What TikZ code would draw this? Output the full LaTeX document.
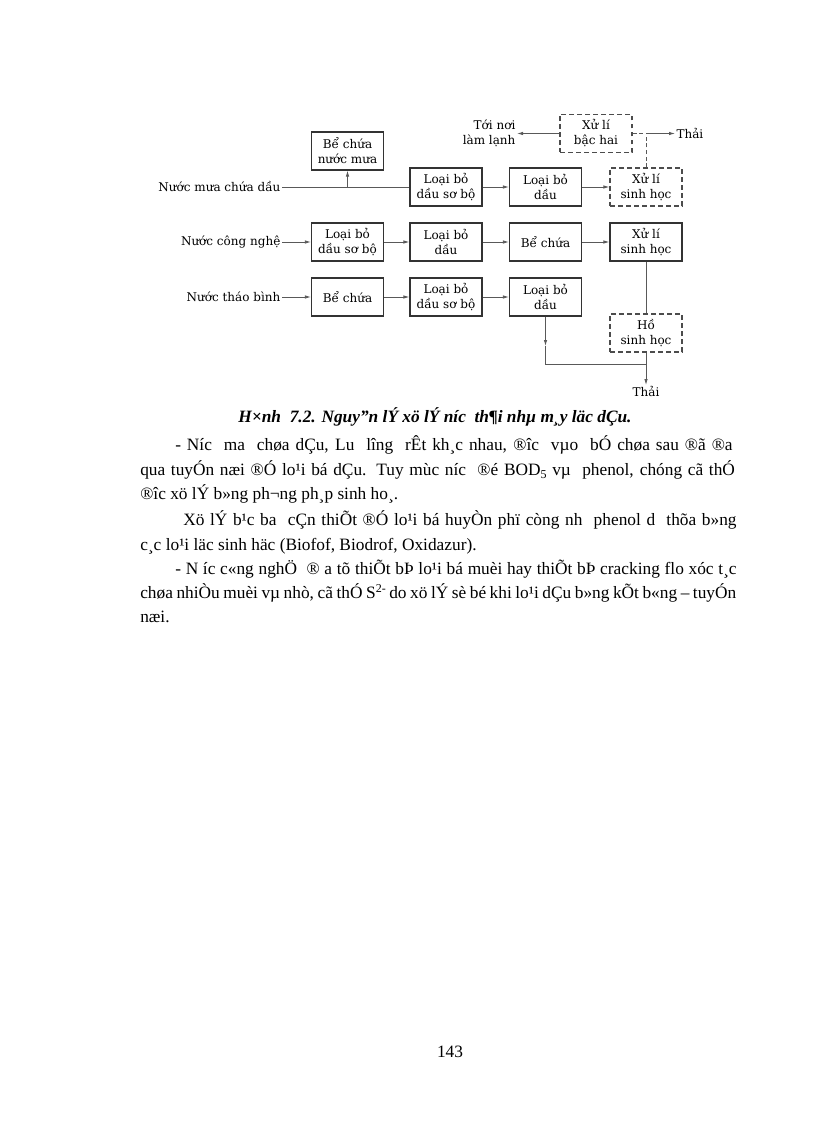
\documentclass[tikz,border=0pt]{standalone}
\usepackage{fontspec}
\setmainfont{Liberation Serif}
\newfontfamily\diafont{DejaVu Serif}
\usetikzlibrary{arrows.meta}
\begin{document}
\begin{tikzpicture}[x=0.75pt,y=-0.75pt,
  box/.style={draw=black!80, line width=0.9pt, inner sep=0pt, minimum width=54pt, minimum height=28.5pt, align=center, font=\diafont\fontsize{9}{11.3}\selectfont},
  dbox/.style={box, draw=black!70, dash pattern=on 3.5pt off 2.5pt},
  lbl/.style={inner sep=1pt, align=center, font=\diafont\fontsize{9}{11.3}\selectfont},
  ln/.style={draw=black!65, line width=0.6pt},
  arr/.style={ln, -{Latex[length=4.5pt,width=2.6pt]}},
  body/.style={anchor=base west, inner sep=0pt, font=\fontsize{13}{15}\selectfont}
]
\useasboundingbox[fill=white] (0,0) rectangle (816,1123);

% boxes
\node[box] (bcm) at (347.5,151) {Bể chứa\\nước mưa};
\node[box] (b12) at (446,187) {Loại bỏ\\dầu sơ bộ};
\node[box] (b13) at (545.5,187) {Loại bỏ\\dầu};
\node[dbox] (s1) at (646,187) {Xử lí\\sinh học};
\node[dbox] (bh) at (596,133.5) {Xử lí\\bậc hai};

\node[box] (b21) at (347.5,242) {Loại bỏ\\dầu sơ bộ};
\node[box] (b22) at (446,242) {Loại bỏ\\dầu};
\node[box] (b23) at (545.5,242) {Bể chứa};
\node[box] (s2) at (646,242) {Xử lí\\sinh học};

\node[box] (b31) at (347.5,297) {Bể chứa};
\node[box] (b32) at (446,297) {Loại bỏ\\dầu sơ bộ};
\node[box] (b33) at (545.5,297) {Loại bỏ\\dầu};
\node[dbox] (ho) at (646,333) {Hồ\\sinh học};

% labels
\node[lbl, anchor=east] (in1) at (282,187) {Nước mưa chứa dầu};
\node[lbl, anchor=east] (in2) at (282,242) {Nước công nghệ};
\node[lbl, anchor=east] (in3) at (282,297) {Nước tháo bình};
\node[lbl, anchor=east, align=right] (lam) at (517,133.5) {Tới nơi\\làm lạnh};
\node[lbl, anchor=west] (th1) at (675,133.5) {Thải};
\node[lbl, anchor=north] (th2) at (646,385) {Thải};

% coordinates
\coordinate (j0) at (347.5,187);
\coordinate (j1) at (646,133.5);
\coordinate (m1) at (545.5,346);
\coordinate (m2) at (545.5,364);
\coordinate (m3) at (646,364);

% connectors row 1
\draw[ln] (in1.east) -- (b12.west);
\draw[arr] (j0) -- (bcm.south);
\draw[arr] (b12.east) -- (b13.west);
\draw[arr] (b13.east) -- (s1.west);
\draw[ln, dash pattern=on 3pt off 2pt] (s1.north) -- (j1);
\draw[ln, dash pattern=on 3pt off 2pt] (bh.east) -- (j1);
\draw[arr] (j1) -- (th1.west);
\draw[arr] (bh.west) -- (lam.east);

% row 2
\draw[arr] (in2.east) -- (b21.west);
\draw[arr] (b21.east) -- (b22.west);
\draw[arr] (b22.east) -- (b23.west);
\draw[arr] (b23.east) -- (s2.west);
\draw[ln] (s2.south) -- (ho.north);

% row 3
\draw[arr] (in3.east) -- (b31.west);
\draw[arr] (b31.east) -- (b32.west);
\draw[arr] (b32.east) -- (b33.west);
\draw[arr] (b33.south) -- (m1);
\draw[ln] (m1) -- (m2) -- (m3);
\draw[ln] (ho.south) -- (m3);
\draw[arr] (m3) -- (th2.north);

% caption and body text
\node[anchor=base, inner sep=0pt, font=\fontsize{13}{15}\selectfont\bfseries\itshape] (cap) at (435,422) {H×nh~ 7.2. Nguy"n lÝ xö lÝ níc~ th¶i nhµ m¸y läc dÇu.};

\node[body] (l1) at (175,450) {\makebox[418pt][s]{- Níc~ ma~ chøa dÇu, Lu~ lîng~ rÊt kh¸c nhau, ®îc~ vµo~ bÓ chøa sau ®ã ®a}};
\node[body] (l2) at (140,475) {\makebox[446pt][s]{qua tuyÓn næi ®Ó lo¹i bá dÇu. Tuy mùc níc~ ®é BOD\raisebox{-2.5pt}{\fontsize{9}{10}\selectfont 5} vµ~ phenol, chóng cã thÓ}};
\node[body] (l3) at (140,499) {®îc xö lÝ b»ng ph¬ng ph¸p sinh ho¸.};
\node[body] (l4) at (183,525) {\makebox[415pt][s]{Xö lÝ b¹c ba~ cÇn thiÕt ®Ó lo¹i bá huyÒn phï còng nh~ phenol d~ thõa b»ng}};
\node[body] (l5) at (140,550) {c¸c lo¹i läc sinh häc (Biofof, Biodrof, Oxidazur).};
\node[body] (l6) at (175,574) {\makebox[421pt][s]{- N íc c«ng nghÖ~ ® a tõ thiÕt bÞ lo¹i bá muèi hay thiÕt bÞ cracking flo xóc t¸c}};
\node[body] (l7) at (140,598) {\makebox[447pt][s]{chøa nhiÒu muèi vµ nhò, cã thÓ S\raisebox{4pt}{\fontsize{9}{10}\selectfont 2-} do xö lÝ sè bé khi lo¹i dÇu b»ng kÕt b«ng – tuyÓn}};
\node[body] (l8) at (140,622) {næi.};

\node[anchor=base, inner sep=0pt, font=\fontsize{13}{15}\selectfont] (pg) at (450,1057) {143};
\end{tikzpicture}
\end{document}
